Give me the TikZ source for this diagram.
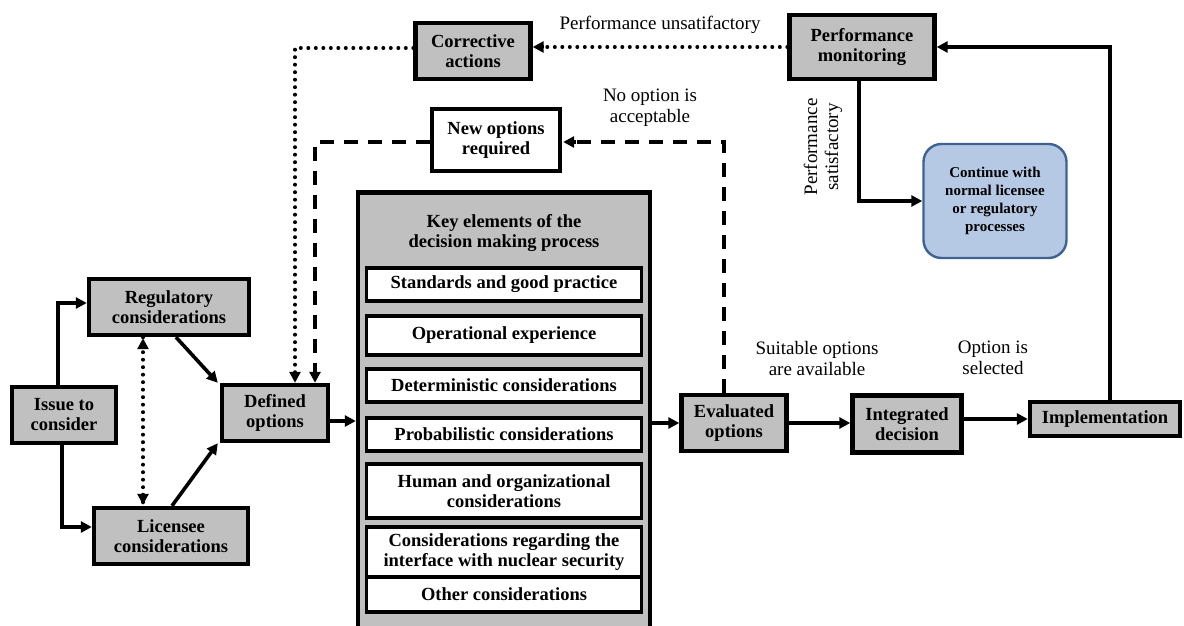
\documentclass[tikz,border=0pt]{standalone}
\usepackage{fontspec}
\setmainfont{Liberation Serif}
\usetikzlibrary{arrows.meta}
\definecolor{boxgray}{HTML}{C0C0C0}
\definecolor{contfill}{HTML}{B6C9E4}
\definecolor{contdraw}{HTML}{3E6391}
\begin{document}
\begin{tikzpicture}[x=1pt,y=-1pt,
  gbox/.style={draw=black, line width=4.4pt, fill=boxgray, align=center,
    inner sep=0pt, font=\bfseries\fontsize{18.5}{20}\selectfont},
  wbox/.style={gbox, fill=white},
  item/.style={draw=black, line width=3.4pt, fill=white, align=center,
    inner sep=0pt, minimum width=275pt, font=\bfseries\fontsize{18.5}{20}\selectfont},
  lbl/.style={align=center, inner sep=0pt, font=\fontsize{19}{21}\selectfont},
  tip/.style={-{Triangle[length=11pt,width=11pt]}},
  arr/.style={tip, line width=3.6pt},
  dotline/.style={line width=4pt, line cap=round, dash pattern=on 0pt off 7.5pt},
  dashline/.style={line width=4pt, dash pattern=on 14pt off 10pt}
]
\useasboundingbox (0,0) rectangle (1184,626);

% left-hand boxes
\node[gbox, minimum width=104pt, minimum height=56pt] (issue) at (64,415) {Issue to\\consider};
\node[gbox, minimum width=160pt, minimum height=56pt] (reg) at (169,307) {Regulatory\\considerations};
\node[gbox, minimum width=154pt, minimum height=56pt] (lic) at (171,536) {Licensee\\considerations};
\node[gbox, minimum width=106pt, minimum height=56pt] (def) at (275,413) {Defined\\options};

% key elements panel
\node[gbox, minimum width=292pt, minimum height=447pt] (key) at (504,416) {};
\node[align=center, inner sep=0pt, font=\bfseries\fontsize{18.5}{20}\selectfont] (keytitle) at (504,233)
  {Key elements of the\\decision making process};
\node[item, minimum height=33pt] (std) at (504,284.5) {Standards and good practice};
\node[item, minimum height=39pt] (oper) at (504,335.5) {Operational experience};
\node[item, minimum height=33pt] (det) at (504,385.5) {Deterministic considerations};
\node[item, minimum height=33pt] (prob) at (504,434.5) {Probabilistic considerations};
\node[item, minimum height=54pt] (human) at (504,491) {Human and organizational\\considerations};
\node[item, minimum height=50pt] (sec) at (504,552) {Considerations regarding the\\interface with nuclear security};
\node[item, minimum height=35pt] (other) at (504,594.5) {Other considerations};

% right-hand boxes
\node[gbox, minimum width=105pt, minimum height=56pt] (eval) at (734,423) {Evaluated\\options};
\node[gbox, minimum width=109pt, minimum height=57pt] (int) at (907,424) {Integrated\\decision};
\node[gbox, minimum width=150pt, minimum height=34pt] (impl) at (1105,419) {Implementation};
\node[gbox, minimum width=145pt, minimum height=64pt] (perf) at (862,47) {Performance\\monitoring};
\node[gbox, minimum width=115pt, minimum height=56pt] (corr) at (473,51) {Corrective\\actions};
\node[wbox, minimum width=128pt, minimum height=62pt] (new) at (496,140) {New options\\required};
\node[draw=contdraw, line width=2.4pt, fill=contfill, rounded corners=18pt,
  minimum width=143pt, minimum height=114pt, align=center, inner sep=0pt,
  font=\bfseries\fontsize{15}{18}\selectfont] (cont) at (995,201)
  {Continue with\\normal licensee\\or regulatory\\processes};

% connector labels
\node[lbl] (lunsat) at (660,25) {Performance unsatifactory};
\node[lbl] (lnoopt) at (650,108) {No option is\\acceptable};
\node[lbl] (lsuit) at (817,358) {Suitable options\\are available};
\node[lbl] (lsel) at (993,358) {Option is\\selected};
\node[lbl, rotate=90] (lsat) at (823,147) {Performance\\satisfactory};

% solid connectors
\draw[arr] ([xshift=-6pt]issue.north) |- ([yshift=4pt]reg.west);
\draw[arr] ([xshift=-2pt]issue.south) |- ([yshift=9pt]lic.west);
\draw[arr] ([xshift=7pt]reg.south) -- ([xshift=-2pt]def.north west);
\draw[arr] ([xshift=1pt]lic.north) -- ([xshift=-2pt]def.south west);
\draw[arr] ([yshift=-8pt]def.east) -- ([yshift=-8pt]def.east -| key.west);
\draw[arr] (eval.west -| key.east) -- (eval.west);
\draw[arr] (eval.east) -- (eval.east -| int.west);
\draw[arr] (impl.west -| int.east) -- (impl.west);
\draw[arr] ([xshift=5pt]impl.north) |- (perf.east);
\draw[arr] ([xshift=-3pt]perf.south) |- (cont.west);

% dotted connectors
\draw[dotline] ([xshift=-26pt]reg.south) -- ([xshift=-28pt]lic.north);
\draw[tip, line width=3pt] ([xshift=-26pt,yshift=-6pt]reg.south) -- ([xshift=-26pt,yshift=-1pt]reg.south);
\draw[tip, line width=3pt] ([xshift=-28pt,yshift=6pt]lic.north) -- ([xshift=-28pt,yshift=1pt]lic.north);
\draw[dotline] (perf.west) -- ([xshift=8pt]perf.west -| corr.east);
\draw[tip, line width=3pt] ([xshift=10pt]perf.west -| corr.east) -- (perf.west -| corr.east);
\draw[dotline] ([yshift=3pt]corr.west) -| ([xshift=20pt,yshift=8pt]def.north);
\draw[tip, line width=3pt] ([xshift=20pt,yshift=9pt]def.north) -- ([xshift=20pt]def.north);

% dashed connectors
\draw[dashline] ([xshift=-10pt]eval.north) |- ([xshift=12pt,yshift=-2pt]new.east);
\draw[tip, line width=3.6pt] ([xshift=14pt,yshift=-2pt]new.east) -- ([xshift=1pt,yshift=-2pt]new.east);
\draw[dashline] ([yshift=-2pt]new.west) -| ([xshift=40pt,yshift=8pt]def.north);
\draw[tip, line width=3.6pt] ([xshift=40pt,yshift=10pt]def.north) -- ([xshift=40pt]def.north);
\end{tikzpicture}
\end{document}
